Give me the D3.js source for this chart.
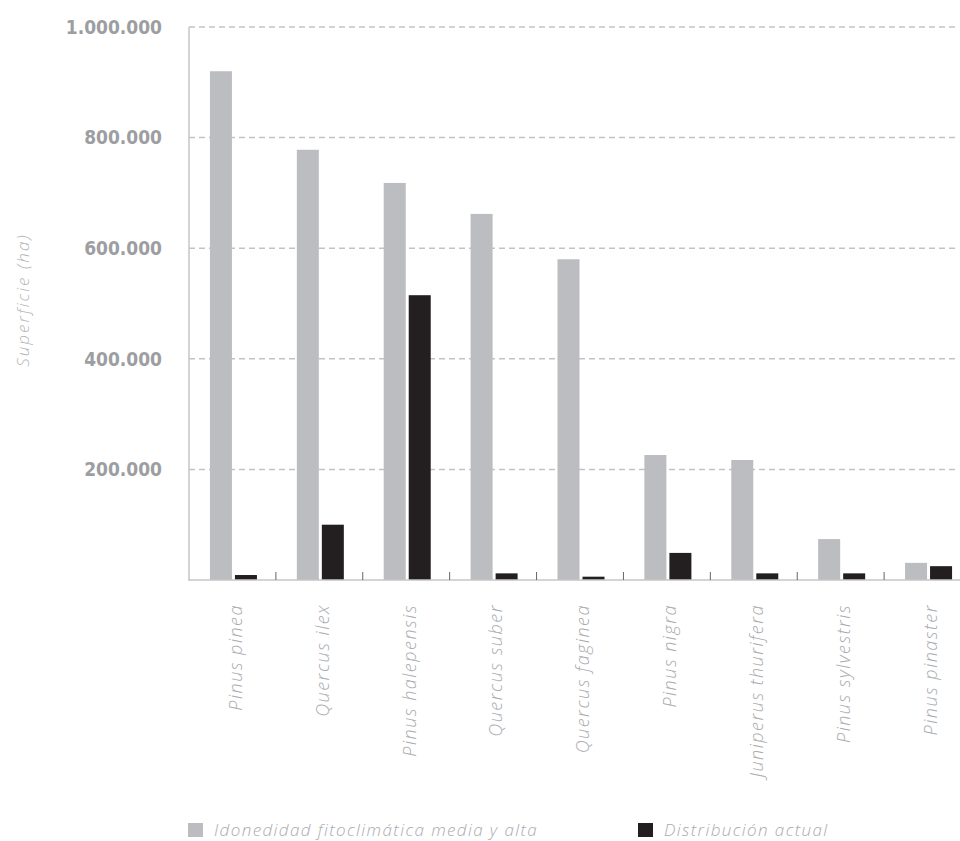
<!DOCTYPE html>
<html><head><meta charset="utf-8">
<script src="https://cdn.jsdelivr.net/npm/d3@7"></script>
<style>body{margin:0;background:#fff}svg{display:block}</style>
</head><body>
<svg id="chart" width="960" height="841"></svg>
<script>
const categories = ["Pinus pinea","Quercus ilex","Pinus halepensis","Quercus suber","Quercus faginea","Pinus nigra","Juniperus thurifera","Pinus sylvestris","Pinus pinaster"];
const idoneidad = [920000, 778000, 718000, 662000, 580000, 226000, 217000, 74000, 31000];
const distribucion = [9000, 100000, 515000, 12000, 6000, 49000, 12000, 12000, 25000];
const seriesNames = ["Idonedidad fitoclimática media y alta","Distribución actual"];
const seriesColors = ["#bcbdc0","#231f20"];
const yTicks = [200000, 400000, 600000, 800000, 1000000];
const yTitle = "Superficie (ha)";

(function(){
const svg = d3.select("#chart");
const mLeft = 189, mRight = 971, mTop = 27, mBottom = 580;
const x = d3.scaleBand().domain(categories).range([mLeft, mRight]);
const y = d3.scaleLinear().domain([0, 1000000]).range([mBottom, mTop]);
const x1 = d3.scaleBand().domain([0,1]).range([x.bandwidth()*0.241, x.bandwidth()*0.782]).paddingInner(0.12);
const fmt = v => d3.format(",")(v).replace(/,/g, ".");

// gridlines
svg.append("g").selectAll("line").data(yTicks).join("line")
  .attr("x1", mLeft).attr("x2", 958).attr("y1", d=>y(d)).attr("y2", d=>y(d))
  .attr("stroke", "#c3c3c3").attr("stroke-width", 1.5).attr("stroke-dasharray", "6,4");

// y labels
svg.append("g").selectAll("text").data(yTicks).join("text")
  .attr("x", 162).attr("y", d=>y(d)).attr("dy", "0.36em").attr("text-anchor","end")
  .attr("font-family","DejaVu Sans Condensed").attr("font-weight","bold").attr("font-size",19)
  .attr("fill","#9c9ea1").text(fmt);

// y title
svg.append("text").attr("transform","translate(23,300) rotate(-90)").attr("text-anchor","middle")
  .attr("dy","0.35em")
  .attr("font-family","Open Sans").attr("font-style","italic").attr("font-weight",300).attr("font-size",17)
  .attr("letter-spacing",2).attr("fill","#b3b5b8").text(yTitle);

// bars
const data = categories.map((c,i)=>({c, vals:[idoneidad[i], distribucion[i]]}));
const groups = svg.append("g").selectAll("g").data(data).join("g")
  .attr("transform", d=>`translate(${x(d.c)},0)`);
groups.selectAll("rect").data(d=>d.vals.map((v,k)=>({v,k}))).join("rect")
  .attr("x", d=>x1(d.k)).attr("width", x1.bandwidth())
  .attr("y", d=>y(d.v)).attr("height", d=>mBottom - y(d.v))
  .attr("fill", d=>seriesColors[d.k]);

// axes lines
svg.append("line").attr("x1",mLeft).attr("x2",mLeft).attr("y1",mTop).attr("y2",mBottom+1)
  .attr("stroke","#c6c6c6").attr("stroke-width",1.5);
svg.append("line").attr("x1",mLeft).attr("x2",960).attr("y1",mBottom).attr("y2",mBottom)
  .attr("stroke","#c6c6c6").attr("stroke-width",1.5);
// category separator ticks
svg.append("g").selectAll("line").data(categories.slice(1)).join("line")
  .attr("x1", d=>x(d)).attr("x2", d=>x(d)).attr("y1", mBottom-8).attr("y2", mBottom)
  .attr("stroke","#666").attr("stroke-width",1);

// x labels
svg.append("g").selectAll("text").data(categories).join("text")
  .attr("transform", d=>`translate(${x(d)+x.bandwidth()/2+3},604) rotate(-90)`)
  .attr("text-anchor","end").attr("dy","0.35em")
  .attr("font-family","Open Sans").attr("font-style","italic").attr("font-weight",300)
  .attr("font-size",18).attr("letter-spacing",1.5)
  .attr("fill","#a9abae").text(d=>d);

// legend
const legX = [188, 638];
const leg = svg.append("g").selectAll("g").data(seriesNames).join("g")
  .attr("transform",(d,i)=>`translate(${legX[i]},823)`);
leg.append("rect").attr("width",15).attr("height",14).attr("fill",(d,i)=>seriesColors[i]);
leg.append("text").attr("x",26).attr("y",7).attr("dy","0.36em")
  .attr("font-family","Open Sans").attr("font-style","italic").attr("font-weight",300)
  .attr("font-size",17).attr("letter-spacing",1.4).attr("fill","#a9abae").text(d=>d);
})();
</script>
</body></html>
